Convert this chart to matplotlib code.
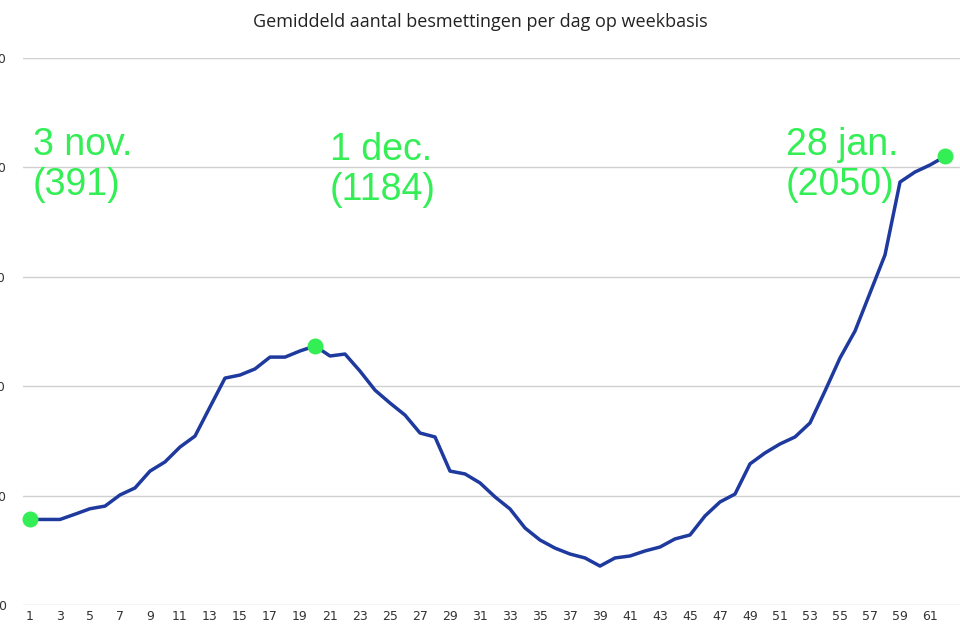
import matplotlib.pyplot as plt
import numpy as np

days = list(range(1, 63))
cases = [391, 391, 391, 415, 440, 452, 503, 535, 612, 654,
         722, 772, 905, 1037, 1051, 1079, 1133, 1133, 1161, 1184,
         1138, 1147, 1069, 982, 923, 868, 786, 768, 612, 599,
         558, 494, 439, 352, 297, 260, 233, 215, 178, 215,
         224, 247, 265, 302, 320, 407, 471, 507, 645, 695,
         736, 768, 832, 978, 1129, 1252, 1426, 1600, 1933, 1979,
         2011, 2050]
highlight_idx = [0, 19, 61]
labels = ["3 nov.\n(391)", "1 dec.\n(1184)", "28 jan.\n(2050)"]
label_pos = [(33, 127), (330, 132), (786, 127)]

green = "#33ee55"
fig = plt.figure(figsize=(9.6, 6.4), dpi=100)
ax = fig.add_axes([22.5 / 960, 1 - 605 / 640, 937.5 / 960, 547 / 640])
ax.plot(days, cases, color="#1f3a9e", linewidth=2.5, zorder=3)
ax.scatter([days[i] for i in highlight_idx], [cases[i] for i in highlight_idx],
           s=110, color=green, zorder=4, clip_on=False)
ax.set_xlim(0.5, 63)
ax.set_ylim(0, 2500)
ax.set_yticks(range(0, 2501, 500))
ax.set_xticks(range(1, 62, 2))
ax.grid(axis="y", color="#d0d0d0", linewidth=1)
ax.set_axisbelow(True)
for s in ax.spines.values():
    s.set_visible(False)
ax.tick_params(length=0, labelsize=9, colors="#333333")
ax.tick_params(axis="y", pad=12)

fig.text(0.5, 1 - 22 / 640, "Gemiddeld aantal besmettingen per dag op weekbasis",
         ha="center", va="center", fontsize=13, family="Open Sans", color="#222222")
for txt, (px, py) in zip(labels, label_pos):
    fig.text(px / 960, 1 - py / 640, txt, ha="left", va="top", fontsize=27,
             family="Liberation Sans", color=green, linespacing=1.15)

fig.savefig("out.png", dpi=100)
